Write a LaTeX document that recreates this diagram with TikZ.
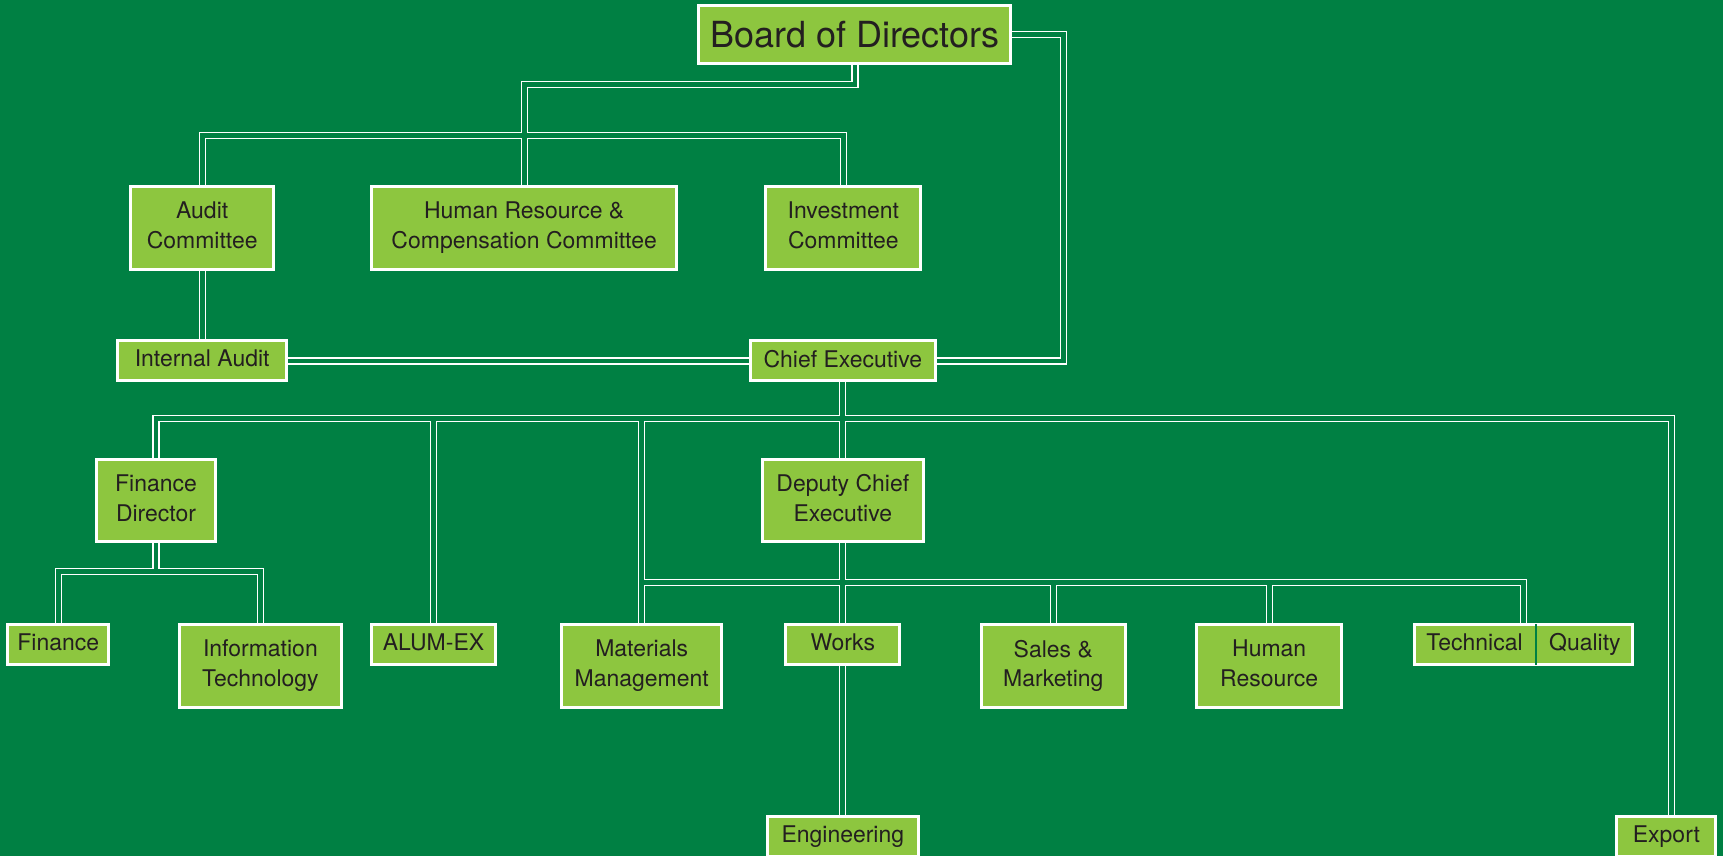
\documentclass[tikz,border=0pt]{standalone}
\usepackage{fontspec}
\setmainfont{TeX Gyre Heros}
\usetikzlibrary{shapes.multipart}
\definecolor{bggreen}{RGB}{0,128,67}
\definecolor{boxgreen}{RGB}{141,198,63}
\definecolor{inkdark}{RGB}{35,31,32}
\pgfdeclarelayer{bg}
\pgfdeclarelayer{links}
\pgfsetlayers{bg,links,main}

\begin{document}
\begin{tikzpicture}
      [x=0.55pt,y=-0.55pt,
      orgbox/.style={fill=boxgreen,draw=white,line width=1.5pt,text=inkdark,align=center,
        font=\fontsize{11.5}{15}\selectfont,inner sep=0pt,minimum height=20pt,
        execute at end node={\vphantom{g}}},
      tall/.style={minimum height=41.5pt},
      bw/.style={minimum width=#1*0.55pt},
      linkout/.style={draw=white,line width=3.6pt},
      linkin/.style={draw=bggreen,line width=2.4pt}]
     \useasboundingbox (0,0) rectangle (1568,779);
     \begin{pgfonlayer}{bg}
       \fill[bggreen] (0,0) rectangle (1568,779);
     \end{pgfonlayer}

     % board and committees
     \node[orgbox,font=\fontsize{18}{22}\selectfont,bw=284,minimum height=29pt,
       text depth=0pt] (board) at (778,31.5) {Board of Directors};
     \node[orgbox,tall,bw=130] (audit) at (184,207.5) {Audit\\Committee};
     \node[orgbox,tall,bw=278] (hrc) at (477,207.5) {Human Resource \&\\Compensation Committee};
     \node[orgbox,tall,bw=141] (invest) at (767.5,207.5) {Investment\\Committee};
     \node[orgbox,bw=154] (intaudit) at (184,328.5) {Internal Audit};
     \node[orgbox,bw=168] (ceo) at (767,328.5) {Chief Executive};

     % second level
     \node[orgbox,tall,bw=108] (fdir) at (142,455.5) {Finance\\Director};
     \node[orgbox,tall,bw=146] (deputy) at (767,455.5) {Deputy Chief\\Executive};

     % departments
     \node[orgbox,bw=92] (finance) at (53,586.5) {Finance};
     \node[orgbox,tall,bw=148] (infotech) at (237,606) {Information\\Technology};
     \node[orgbox,bw=113] (alumex) at (394.5,586.5) {ALUM-EX};
     \node[orgbox,tall,bw=146] (materials) at (584,606) {Materials\\Management};
     \node[orgbox,bw=104] (works) at (767,586.5) {Works};
     \node[orgbox,tall,bw=131] (sales) at (958.5,606) {Sales \&\\Marketing};
     \node[orgbox,tall,bw=132] (humres) at (1155,606) {Human\\Resource};
     \node[orgbox,rectangle split,rectangle split horizontal,rectangle split parts=2,
       rectangle split draw splits=false,inner xsep=5.9pt,inner ysep=4.6pt] (techqual) at (1386.5,586.5)
       {Technical\nodepart{two}Quality};
     \draw[bggreen,line width=1.15pt,shorten <=0.75pt,shorten >=0.75pt]
       (techqual.one split north) -- (techqual.one split south);
     \node[orgbox,bw=137] (engineering) at (767,761.5) {Engineering};
     \node[orgbox,bw=90] (export) at (1516.5,761.5) {Export};

     % bends and buses
     \coordinate (jog) at (778,77);
     \coordinate (cbus) at (477,123);
     \coordinate (rbend) at (968,328.5);
     \coordinate (ebus) at (767,381);
     \coordinate (dbus) at (767,530);
     \coordinate (fbus) at (142,520);

     % double lines: white first, then green core
     \begin{pgfonlayer}{links}
     \foreach \pass in {linkout,linkin}{
       \draw[\pass] (board.south) -- (jog) -| (hrc.north);
       \draw[\pass] (audit.north) |- (cbus) -| (invest.north);
       \draw[\pass] (board.east) -| (rbend) -- (ceo.east);
       \draw[\pass] (audit.south) -- (intaudit.north);
       \draw[\pass] (intaudit.east) -- (ceo.west);
       \draw[\pass] (ceo.south) -- (deputy.north);
       \draw[\pass] (fdir.north) |- (ebus) -| ([xshift=2.5pt]export.north);
       \draw[\pass] (alumex.north) -- (alumex.north |- ebus);
       \draw[\pass] (materials.north) -- (materials.north |- ebus);
       \draw[\pass] (materials.north |- dbus) -| (techqual.north);
       \draw[\pass] (deputy.south) -- (works.north);
       \draw[\pass] (sales.north) -- (sales.north |- dbus);
       \draw[\pass] (humres.north) -- (humres.north |- dbus);
       \draw[\pass] (works.south) -- (engineering.north);
       \draw[\pass] (fdir.south) -- (fbus);
       \draw[\pass] (finance.north) |- (fbus) -| (infotech.north);
     }
     \end{pgfonlayer}
    \end{tikzpicture}
\end{document}
